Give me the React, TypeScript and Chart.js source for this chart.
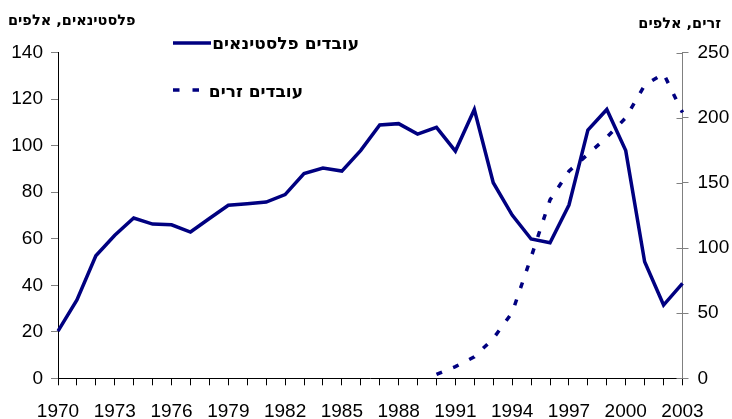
import React, { useEffect, useRef } from "react";
import { Chart, registerables } from "chart.js";

Chart.register(...registerables);

const years = [
  "1970", "1971", "1972", "1973", "1974", "1975", "1976", "1977", "1978", "1979",
  "1980", "1981", "1982", "1983", "1984", "1985", "1986", "1987", "1988", "1989",
  "1990", "1991", "1992", "1993", "1994", "1995", "1996", "1997", "1998", "1999",
  "2000", "2001", "2002", "2003",
];

const palestinianWorkers = [
  20.3, 33.7, 52.7, 61.5, 68.9, 66.3, 66, 62.9, 68.7, 74.4,
  75.1, 75.8, 79, 88, 90.4, 89.1, 98, 108.9, 109.5, 105,
  107.9, 97.7, 115.6, 84.1, 70.2, 59.9, 58.3, 74.5, 106.7, 115.6,
  97.9, 50.1, 31.5, 40.8,
];

const foreignStartYear = 1990;
const foreignWorkers = [3, 9, 16.5, 30.5, 50.5, 93, 137, 159, 172, 185, 200, 225, 234, 204];

const leftTitle = "פלסטינאים, אלפים";
const rightTitle = "זרים, אלפים";
const legendPalestinian = "עובדים פלסטינאים";
const legendForeign = "עובדים זרים";

const FONT = 'Arial, "Liberation Sans", sans-serif';
const HEB_FONT = '"DejaVu Sans", Arial, sans-serif';
const NAVY = "#000080";

export default function App() {
  const ref = useRef<HTMLCanvasElement | null>(null);

  useEffect(() => {
    const canvas = ref.current;
    if (!canvas) return;

    const foreignData = years.map((y) => {
      const i = Number(y) - foreignStartYear;
      return i >= 0 && i < foreignWorkers.length ? foreignWorkers[i] : null;
    });

    const overlay = {
      id: "overlay",
      afterDraw(chart: any) {
        const ctx = chart.ctx;
        const area = chart.chartArea;
        const y1 = chart.scales.y1;
        ctx.save();
        // inward ticks on the right axis
        ctx.strokeStyle = "#808080";
        ctx.lineWidth = 1;
        y1.ticks.forEach((t: any) => {
          const yy = Math.round(y1.getPixelForValue(t.value)) + 0.5;
          ctx.beginPath();
          ctx.moveTo(area.right - 6, yy);
          ctx.lineTo(area.right, yy);
          ctx.stroke();
        });

        ctx.fillStyle = "#000";
        ctx.textBaseline = "middle";
        ctx.font = `bold 14.5px ${HEB_FONT}`;
        ctx.textAlign = "left";
        ctx.fillText(leftTitle, 8, 21);
        ctx.textAlign = "right";
        ctx.fillText(rightTitle, 721, 24);

        // legend
        ctx.strokeStyle = NAVY;
        ctx.lineWidth = 3.5;
        ctx.setLineDash([]);
        ctx.beginPath();
        ctx.moveTo(173, 43);
        ctx.lineTo(211, 43);
        ctx.stroke();
        ctx.setLineDash([6.5, 13]);
        ctx.beginPath();
        ctx.moveTo(173, 90);
        ctx.lineTo(200, 90);
        ctx.stroke();
        ctx.setLineDash([]);
        ctx.font = `bold 17px ${HEB_FONT}`;
        ctx.textAlign = "right";
        ctx.fillText(legendPalestinian, 359, 45);
        ctx.fillText(legendForeign, 303, 93);
        ctx.restore();
      },
    };

    const chart = new Chart(canvas, {
      type: "line",
      data: {
        labels: years,
        datasets: [
          {
            label: legendPalestinian,
            data: palestinianWorkers,
            borderColor: NAVY,
            borderWidth: 3.5,
            pointRadius: 0,
            tension: 0,
            yAxisID: "y",
          },
          {
            label: legendForeign,
            data: foreignData,
            borderColor: NAVY,
            borderWidth: 3.5,
            borderDash: [6, 12],
            borderCapStyle: "butt",
            pointRadius: 0,
            tension: 0,
            spanGaps: false,
            yAxisID: "y1",
          },
        ],
      },
      options: {
        responsive: false,
        animation: false,
        devicePixelRatio: 1,
        layout: { padding: { top: 52.7, left: 0, right: 0, bottom: 0 } },
        plugins: { legend: { display: false }, tooltip: { enabled: false } },
        scales: {
          x: {
            type: "category",
            offset: false,
            grid: {
              drawOnChartArea: false,
              drawTicks: true,
              tickLength: 7,
              color: "#000",
            },
            border: { display: true, color: "#000", width: 1 },
            ticks: {
              autoSkip: false,
              maxRotation: 0,
              minRotation: 0,
              padding: 15,
              color: "#000",
              font: { family: FONT, size: 19 },
              callback: (_v: any, i: number) => (i % 3 === 0 ? years[i] : ""),
            },
            afterFit: (s: any) => {
              s.height = 40.7;
            },
          },
          y: {
            position: "left",
            min: 0,
            max: 140,
            grid: {
              drawOnChartArea: false,
              drawTicks: true,
              tickLength: 7,
              color: "#808080",
            },
            border: { display: true, color: "#000", width: 1 },
            ticks: {
              stepSize: 20,
              padding: 8,
              color: "#000",
              font: { family: FONT, size: 19 },
            },
            afterFit: (s: any) => {
              s.width = 58;
            },
          },
          y1: {
            position: "right",
            min: 0,
            max: 250,
            grid: {
              drawOnChartArea: false,
              drawTicks: true,
              tickLength: 6,
              color: "#808080",
            },
            border: { display: true, color: "#808080", width: 1 },
            ticks: {
              stepSize: 50,
              padding: 9,
              color: "#000",
              font: { family: FONT, size: 19 },
            },
            afterFit: (s: any) => {
              s.width = 49.5;
            },
          },
        },
      },
      plugins: [overlay],
    } as any);

    return () => chart.destroy();
  }, []);

  return (
    <div style={{ position: "absolute", left: 0, top: 0, width: 732, height: 419 }}>
      <canvas ref={ref} width={732} height={419} style={{ display: "block" }} />
    </div>
  );
}
